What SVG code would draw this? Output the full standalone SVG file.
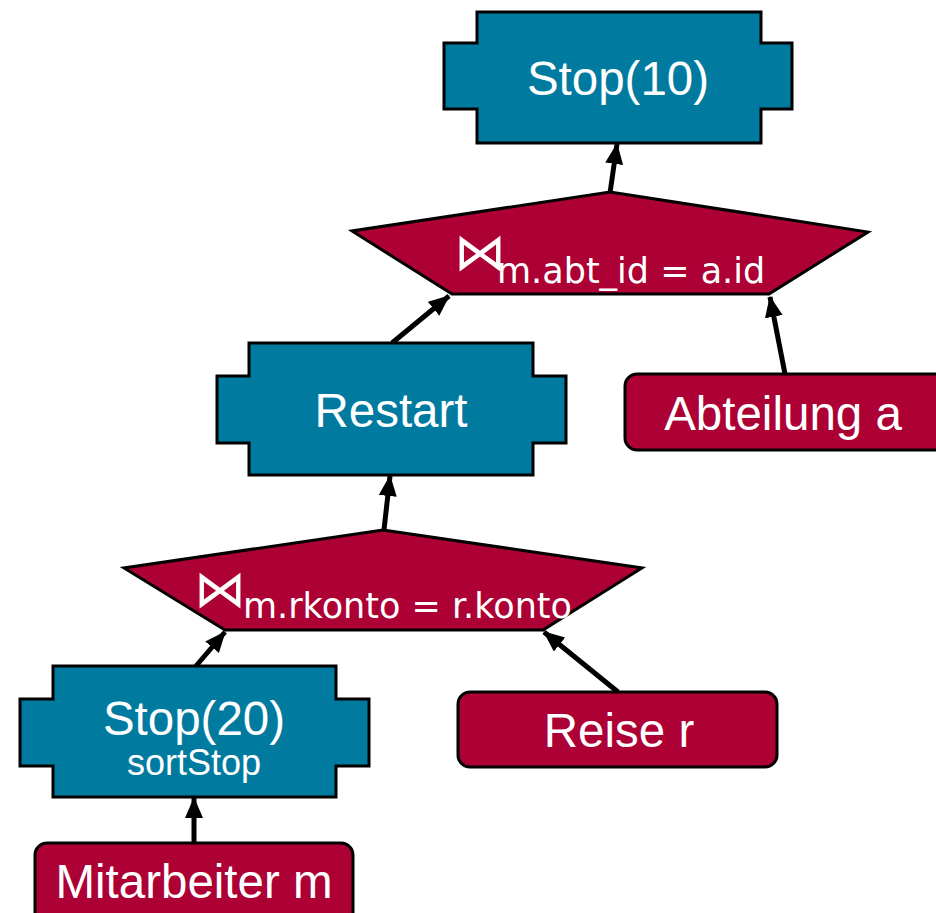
<svg xmlns="http://www.w3.org/2000/svg" width="936" height="913" viewBox="0 0 936 913">
<style>
.op{fill:#017A9F;stroke:#000;stroke-width:3;stroke-linejoin:miter}
.join{fill:#AD0034;stroke:#000;stroke-width:3;stroke-linejoin:miter}
.rel{fill:#AD0034;stroke:#000;stroke-width:3}
.lbl{font-family:"Liberation Sans",Arial,sans-serif;font-size:47.5px;fill:#fff;text-anchor:middle}
.small{font-size:36px}
.jt{font-family:"DejaVu Sans","Liberation Sans",sans-serif;font-size:35px;fill:#fff}
.bt{font-family:"DejaVu Sans",sans-serif;font-size:52px;fill:#fff}
.edge{stroke:#000;stroke-width:5;fill:none;marker-end:url(#ah)}
</style>
<defs>
<marker id="ah" markerUnits="userSpaceOnUse" markerWidth="22" markerHeight="20" refX="20" refY="9" orient="auto">
<path d="M0,0 L21,9 L0,18 Z" fill="#000"/>
</marker>
</defs>
<g id="connectors">
<line class="edge" x1="610" y1="193" x2="617" y2="144"/>
<line class="edge" x1="392" y1="343" x2="449" y2="296"/>
<line class="edge" x1="785" y1="374" x2="770" y2="297"/>
<line class="edge" x1="384" y1="530" x2="390" y2="476"/>
<line class="edge" x1="196" y1="666" x2="225" y2="632"/>
<line class="edge" x1="618" y1="692" x2="544" y2="632"/>
<line class="edge" x1="194" y1="843" x2="194" y2="798"/>
</g>
<g id="stop10">
<polygon class="op" points="477,12 761,12 761,43 792,43 792,109 761,109 761,143 477,143 477,109 444,109 444,43 477,43"/>
<text class="lbl" x="618" y="95">Stop(10)</text>
</g>
<g id="join1">
<polygon class="join" points="610,192 868,232 769,294 452,294 352,231"/>
<text class="bt" x="454" y="270">⋈</text>
<text class="jt" x="497" y="283">m.abt_id = a.id</text>
</g>
<g id="restart">
<polygon class="op" points="249,343 533,343 533,376 566,376 566,443 533,443 533,475 249,475 249,443 217,443 217,376 249,376"/>
<text class="lbl" x="391" y="427">Restart</text>
</g>
<g id="abteilung">
<rect class="rel" x="625" y="374" width="330" height="76" rx="12"/>
<text class="lbl" x="783" y="430">Abteilung a</text>
</g>
<g id="join2">
<polygon class="join" points="383,530 642,568 543,630 225,630 124,568"/>
<text class="bt" x="194" y="607">⋈</text>
<text class="jt" x="243" y="618">m.rkonto = r.konto</text>
</g>
<g id="stop20">
<polygon class="op" points="53,666 336,666 336,699 369,699 369,766 336,766 336,797 53,797 53,766 20,766 20,699 53,699"/>
<text class="lbl" x="194" y="735">Stop(20)</text>
<text class="lbl small" x="194" y="775">sortStop</text>
</g>
<g id="reise">
<rect class="rel" x="458" y="692" width="319" height="75" rx="12"/>
<text class="lbl" x="619" y="747">Reise r</text>
</g>
<g id="mitarbeiter">
<rect class="rel" x="35" y="843" width="318" height="90" rx="12"/>
<text class="lbl" x="194" y="898">Mitarbeiter m</text>
</g>
</svg>
